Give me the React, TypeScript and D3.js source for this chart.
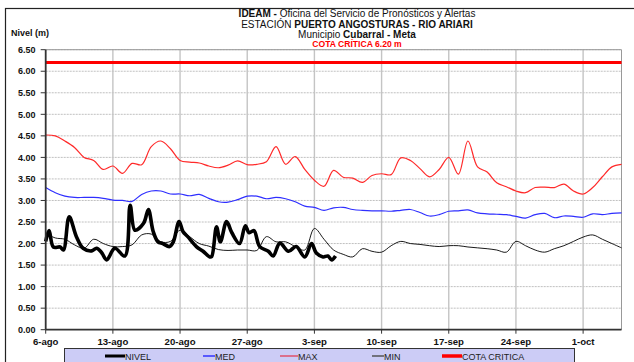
import React from 'react';
import * as d3 from 'd3';

// days counted from 6-ago
const weekTicks = [0, 7, 14, 21, 28, 35, 42, 49, 56];
const weekLabels = ['6-ago', '13-ago', '20-ago', '27-ago', '3-sep', '10-sep', '17-sep', '24-sep', '1-oct'];
const levelTicks = [0, 0.5, 1, 1.5, 2, 2.5, 3, 3.5, 4, 4.5, 5, 5.5, 6, 6.5];

const COTA_CRITICA = 6.2;

const maxSerie = [4.52, 4.5, 4.38, 4.23, 4.0, 3.93, 3.72, 3.8, 3.63, 3.86, 3.83, 4.25, 4.38, 4.2, 3.93, 3.89, 3.87, 3.8, 3.76, 3.82,
  3.92, 3.83, 3.84, 3.9, 4.25, 3.84, 4.02, 3.72, 3.47, 3.33, 3.7, 3.54, 3.52, 3.42, 3.58, 3.62, 3.6, 3.99, 3.93, 3.74,
  3.55, 3.72, 4.0, 3.61, 4.38, 3.78, 3.66, 3.41, 3.32, 3.22, 3.18, 3.3, 3.31, 3.3, 3.38, 3.22, 3.15, 3.3, 3.55, 3.78, 3.84];

const medSerie = [3.3, 3.18, 3.1, 3.07, 3.07, 3.07, 3.05, 3.01, 3.0, 2.98, 3.14, 3.22, 3.22, 3.15, 3.15, 3.11, 3.14, 3.05, 2.97, 2.96,
  3.02, 3.1, 3.1, 3.04, 3.07, 3.04, 2.97, 2.87, 2.84, 2.77, 2.83, 2.84, 2.79, 2.77, 2.76, 2.76, 2.75, 2.77, 2.79, 2.72,
  2.64, 2.67, 2.75, 2.76, 2.78, 2.71, 2.69, 2.68, 2.67, 2.63, 2.59, 2.67, 2.7, 2.6, 2.64, 2.63, 2.61, 2.69, 2.67, 2.7, 2.71];

const minSerie = [2.24, 2.13, 2.1, 1.97, 1.89, 2.1, 2.0, 1.93, 1.93, 1.97, 2.2, 2.22, 2.04, 2.05, 2.31, 2.16, 2.0, 1.94, 1.86, 1.84,
  1.85, 1.85, 1.84, 2.16, 2.04, 2.04, 1.93, 1.85, 2.35, 2.1, 1.85, 1.75, 1.69, 1.88, 1.82, 1.8, 1.95, 2.05, 2.0, 1.98,
  1.95, 1.93, 1.95, 1.95, 1.92, 1.9, 1.88, 1.85, 1.8, 2.05, 1.95, 1.85, 1.8, 1.88, 1.95, 2.05, 2.15, 2.2, 2.1, 2.0, 1.9];

// observed level readings (day offset, metres)
const nivelDia = [0, 0.35, 0.8, 1.5, 1.85, 2.45, 3.2, 3.9, 4.8, 5.3, 5.8, 6.35, 7.2, 8.25, 8.8, 9.3, 10.2, 10.7, 11.2, 11.7,
  12.2, 12.9, 13.3, 13.9, 14.3, 14.8, 15.7, 16.4, 17.1, 17.3, 17.8, 18.2, 18.85, 19.4, 20.2, 20.8, 21.2, 21.7, 22.3, 23.2,
  23.7, 24.4, 25.3, 26.1, 27.0, 27.7, 28.2, 28.9, 29.4, 29.8, 30.2];
const nivelValor = [2.05, 2.3, 1.92, 1.92, 1.85, 2.62, 2.16, 1.89, 1.83, 1.89, 1.8, 1.62, 1.89, 1.71, 2.89, 2.31, 2.47, 2.79, 2.28, 2.04,
  2.0, 1.93, 2.04, 2.51, 2.28, 2.16, 1.93, 1.82, 1.69, 1.7, 2.39, 2.04, 2.51, 2.25, 2.0, 2.41, 2.25, 2.3, 1.93, 1.82,
  1.71, 2.01, 1.82, 1.93, 1.69, 2.0, 1.78, 1.69, 1.71, 1.62, 1.71];

const legendItems = [
  { label: 'NIVEL', color: '#000', width: 3, x0: 105, x1: 125 },
  { label: 'MED', color: '#3333ff', width: 1.5, x0: 203, x1: 215 },
  { label: 'MAX', color: '#e0506a', width: 1.5, x0: 280, x1: 298 },
  { label: 'MIN', color: '#555', width: 1.5, x0: 372, x1: 384 },
  { label: 'COTA CRITICA', color: '#ff0000', width: 3.5, x0: 442, x1: 462 },
];

const FONT = 'Liberation Sans, Arial, Helvetica, sans-serif';

export default function App() {
  const W = 634, H = 362;
  const left = 45.7, right = 621.5, top = 49.7, bottom = 329.7;

  const x = d3.scaleLinear().domain([0, 60]).range([left, right]);
  const y = d3.scaleLinear().domain([0, 6.5]).range([bottom, top]);

  const curve = d3.curveCatmullRom.alpha(0.5);
  const daily = d3.line<number>().x((_, i) => x(i)).y(d => y(d)).curve(curve);
  const nivelLine = d3.line<number>().x((_, i) => x(nivelDia[i])).y(d => y(d)).curve(curve);

  return (
    <svg width={W} height={H} style={{ position: 'absolute', left: 0, top: 0, background: '#fff' }} fontFamily={FONT}>
      <rect x={0} y={0} width={W} height={H} fill="#fff" />
      {/* outer frame */}
      <rect x={5.5} y={8.5} width={640} height={370} fill="none" stroke="#222" strokeWidth={1.2} />

      {/* titles */}
      <text x={357} y={17} textAnchor="middle" fontSize={10} fill="#111">
        <tspan fontWeight="bold">IDEAM -</tspan> Oficina del Servicio de Pronósticos y Alertas
      </text>
      <text x={357} y={27.5} textAnchor="middle" fontSize={10} fill="#111">
        ESTACIÓN <tspan fontWeight="bold">PUERTO ANGOSTURAS - RIO ARIARI</tspan>
      </text>
      <text x={357} y={38} textAnchor="middle" fontSize={10} fill="#111">
        Municipio <tspan fontWeight="bold">Cubarral - Meta</tspan>
      </text>
      <text x={357} y={46.5} textAnchor="middle" fontSize={8.6} fontWeight="bold" fill="#ff0000">
        COTA CRÍTICA 6.20 m
      </text>
      <text x={11} y={36} fontSize={9} fontWeight="bold" fill="#111">Nivel (m)</text>

      {/* grid */}
      {levelTicks.slice(1).map(v => (
        <line key={'h' + v} x1={left} x2={right} y1={y(v)} y2={y(v)} stroke="#b0b0b0" strokeWidth={0.8} strokeDasharray="2,1" />
      ))}
      {weekTicks.slice(1).map(d => (
        <line key={'v' + d} x1={x(d)} x2={x(d)} y1={top} y2={bottom} stroke="#c4c4c4" strokeWidth={1.4} />
      ))}
      <line x1={left} x2={right} y1={top} y2={top} stroke="#999" strokeWidth={1} />
      <line x1={right} x2={right} y1={top} y2={bottom} stroke="#999" strokeWidth={1} />

      {/* series */}
      <path d={daily(maxSerie) || ''} fill="none" stroke="#ff2a2a" strokeWidth={1.2} />
      <path d={daily(medSerie) || ''} fill="none" stroke="#2f2fff" strokeWidth={1.2} />
      <path d={daily(minSerie) || ''} fill="none" stroke="#000" strokeWidth={0.9} />
      <path d={nivelLine(nivelValor) || ''} fill="none" stroke="#000" strokeWidth={3.6} strokeLinejoin="round" />
      <line x1={left} x2={right} y1={y(COTA_CRITICA)} y2={y(COTA_CRITICA)} stroke="#ff0000" strokeWidth={3} />

      {/* axes */}
      <line x1={left} x2={left} y1={top} y2={bottom} stroke="#333" strokeWidth={1.8} />
      <line x1={left} x2={right} y1={bottom} y2={bottom} stroke="#333" strokeWidth={1.8} />
      {levelTicks.map(v => (
        <g key={'yt' + v}>
          <line x1={left - 5} x2={left} y1={y(v)} y2={y(v)} stroke="#333" strokeWidth={1} />
          <text x={35.5} y={y(v) + 3.2} textAnchor="end" fontSize={9} fontWeight="bold" fill="#111">{v.toFixed(2)}</text>
        </g>
      ))}
      {weekTicks.map((d, i) => (
        <g key={'xt' + d}>
          <line x1={x(d)} x2={x(d)} y1={bottom} y2={bottom + 4} stroke="#333" strokeWidth={1} />
          <text x={x(d)} y={bottom + 15} textAnchor="middle" fontSize={9.6} fontWeight="bold" fill="#111">{weekLabels[i]}</text>
        </g>
      ))}

      {/* legend */}
      <rect x={64.5} y={348.5} width={510} height={20} fill="#ccccf6" stroke="#333" strokeWidth={1} />
      {legendItems.map(it => (
        <g key={it.label}>
          <line x1={it.x0} x2={it.x1} y1={356} y2={356} stroke={it.color} strokeWidth={it.width} />
          <text x={it.x1} y={359.5} fontSize={9} fill="#222">{it.label}</text>
        </g>
      ))}
    </svg>
  );
}
